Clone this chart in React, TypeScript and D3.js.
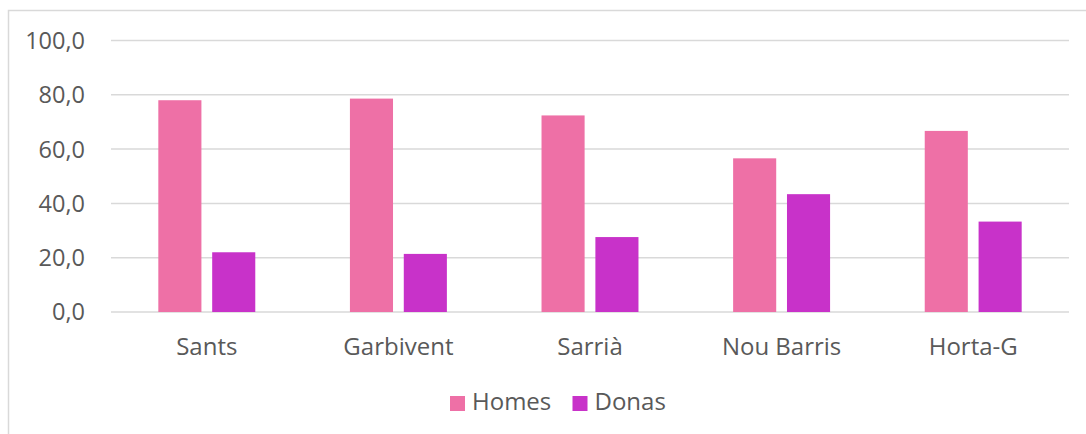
import React, { useEffect, useRef } from 'react';
import * as d3 from 'd3';

const districts = ['Sants', 'Garbivent', 'Sarrià', 'Nou Barris', 'Horta-G'];
const homes = [78.0, 78.6, 72.4, 56.6, 66.7];
const donas = [22.0, 21.4, 27.6, 43.4, 33.3];
const seriesNames = ['Homes', 'Donas'];
const seriesColors = ['#EE70A6', '#C832C9'];
const yTicks = [0, 20, 40, 60, 80, 100];

const App = () => {
  const svgRef = useRef<SVGSVGElement>(null);

  useEffect(() => {
    const svg = d3.select(svgRef.current);
    svg.selectAll('*').remove();

    const font = '"Open Sans", sans-serif';
    const textColor = '#595959';

    // outer chart border (runs off the right/bottom edge)
    svg.append('rect')
      .attr('x', 8.5)
      .attr('y', 10.5)
      .attr('width', 1200)
      .attr('height', 600)
      .attr('fill', 'white')
      .attr('stroke', '#d9d9d9')
      .attr('stroke-width', 1.5);

    const xScale = d3.scaleBand()
      .domain(districts)
      .range([111, 1069]);

    const yScale = d3.scaleLinear()
      .domain([0, 100])
      .range([312, 40.5]);

    const groupW = xScale.bandwidth() * 0.506;
    const x1 = d3.scaleBand()
      .domain(seriesNames)
      .range([-groupW / 2, groupW / 2])
      .paddingInner(0.2);

    // gridlines
    svg.append('g')
      .selectAll('line')
      .data(yTicks)
      .enter()
      .append('line')
      .attr('x1', 111)
      .attr('x2', 1069)
      .attr('y1', d => yScale(d))
      .attr('y2', d => yScale(d))
      .attr('stroke', '#d9d9d9')
      .attr('stroke-width', 1.5);

    // y labels
    svg.append('g')
      .selectAll('text')
      .data(yTicks)
      .enter()
      .append('text')
      .attr('x', 85)
      .attr('y', d => yScale(d))
      .attr('dy', '0.36em')
      .attr('text-anchor', 'end')
      .attr('fill', textColor)
      .style('font-family', font)
      .style('font-size', '23.5px')
      .text(d => d.toFixed(1).replace('.', ','));

    // bars
    const values = [homes, donas];
    seriesNames.forEach((s, si) => {
      svg.append('g')
        .selectAll('rect')
        .data(districts)
        .enter()
        .append('rect')
        .attr('x', d => (xScale(d) as number) + xScale.bandwidth() / 2 + (x1(s) as number))
        .attr('y', (d, i) => yScale(values[si][i]))
        .attr('width', x1.bandwidth())
        .attr('height', (d, i) => yScale(0) - yScale(values[si][i]))
        .attr('fill', seriesColors[si]);
    });

    // x labels
    svg.append('g')
      .selectAll('text')
      .data(districts)
      .enter()
      .append('text')
      .attr('x', d => (xScale(d) as number) + xScale.bandwidth() / 2)
      .attr('y', 355)
      .attr('text-anchor', 'middle')
      .attr('fill', textColor)
      .style('font-family', font)
      .style('font-size', '24px')
      .text(d => d);

    // legend
    const legendX = [450, 572.5];
    const legend = svg.append('g');
    seriesNames.forEach((s, i) => {
      legend.append('rect')
        .attr('x', legendX[i])
        .attr('y', 396)
        .attr('width', 15)
        .attr('height', 15)
        .attr('fill', seriesColors[i]);
      legend.append('text')
        .attr('x', legendX[i] + 22)
        .attr('y', 410)
        .attr('fill', textColor)
        .style('font-family', font)
        .style('font-size', '24px')
        .text(s);
    });
  }, []);

  return (
    <svg
      ref={svgRef}
      width={1086}
      height={434}
      style={{ position: 'absolute', left: 0, top: 0 }}
    />
  );
};

export default App;
